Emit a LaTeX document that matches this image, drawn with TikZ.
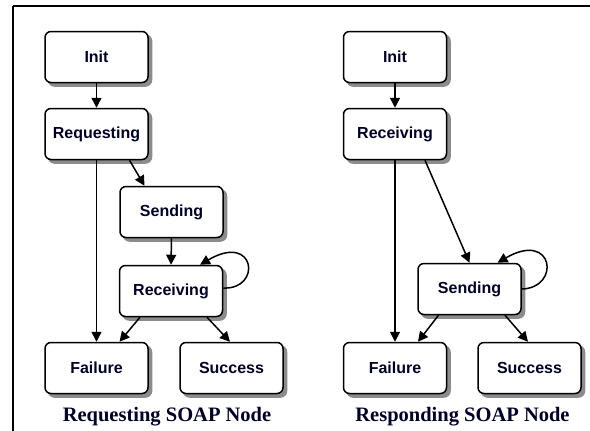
\documentclass[tikz,border=0pt]{standalone}
\usepackage{fontspec}
\setmainfont{Liberation Serif}
\newfontfamily\statefont{Liberation Sans}
\usetikzlibrary{arrows.meta}

% a state box with its drop shadow: name, centre, label
\newcommand\statebox[3]{%
  \node[stateshadow] (#1s) at ([shift={(3.5,3.5)}]#2) {};
  \node[state] (#1) at (#2) {#3};}

\begin{document}
\begin{tikzpicture}[x=1pt,y=-1pt,
  boxsize/.style={minimum width=103pt, minimum height=51pt, inner sep=0pt,
    rounded corners=6pt, line width=1.5pt},
  state/.style={boxsize, draw=black, fill=white,
    font=\statefont\bfseries\fontsize{16}{19}\selectfont, text=black!85!blue},
  stateshadow/.style={boxsize, draw=black!45, fill=black!45},
  trans/.style={line width=1.5pt, -{Triangle[length=10pt,width=10pt]}},
  caption/.style={font=\bfseries\fontsize{20.5}{24}\selectfont, text=black!85!blue},
  frameline/.style={line width=2.5pt}]

\useasboundingbox (0,0) rectangle (590,431);

% outer rules
\draw[frameline] (13,6) -- (590,6);
\draw[frameline] (13,6) -- (13,431);

% requesting SOAP node
\statebox{linit}{96.5,57}{Init}
\statebox{lreq}{96.5,134}{Requesting}
\statebox{lsend}{171.5,212}{Sending}
\statebox{lrecv}{171,291}{Receiving}
\statebox{lfail}{96.5,368}{Failure}
\statebox{lsucc}{231.5,368}{Success}
\node[caption] (lcap) at (167,417) {Requesting SOAP Node};

\draw[trans] (linit.south) -- (lreq.north);
\draw[trans] (lreq.south) -- (lfail.north);
\draw[trans] ([xshift=33]lreq.south) -- ([xshift=-27]lsend.north);
\draw[trans] (lsend.south) -- (lrecv.north);
\draw[trans] ([yshift=3]lrecv.east) .. controls (262,290) and (256,232) .. ([xshift=29]lrecv.north);
\draw[trans] ([xshift=-31]lrecv.south) -- ([xshift=23]lfail.north);
\draw[trans] ([xshift=36]lrecv.south) -- ([xshift=-1.5]lsucc.north);

% responding SOAP node
\statebox{rinit}{395,57}{Init}
\statebox{rrecv}{395,134}{Receiving}
\statebox{rsend}{469.5,289}{Sending}
\statebox{rfail}{395,368}{Failure}
\statebox{rsucc}{529.5,368}{Success}
\node[caption] (rcap) at (462.5,417) {Responding SOAP Node};

\draw[trans] (rinit.south) -- (rrecv.north);
\draw[trans] (rrecv.south) -- (rfail.north);
\draw[trans] ([xshift=30]rrecv.south) -- (rsend.north);
\draw[trans] (rsend.east) .. controls (561,288) and (554,230) .. ([xshift=28]rsend.north);
\draw[trans] ([xshift=-31]rsend.south) -- ([xshift=23]rfail.north);
\draw[trans] ([xshift=35.5]rsend.south) -- ([xshift=-1.5]rsucc.north);

\end{tikzpicture}
\end{document}
